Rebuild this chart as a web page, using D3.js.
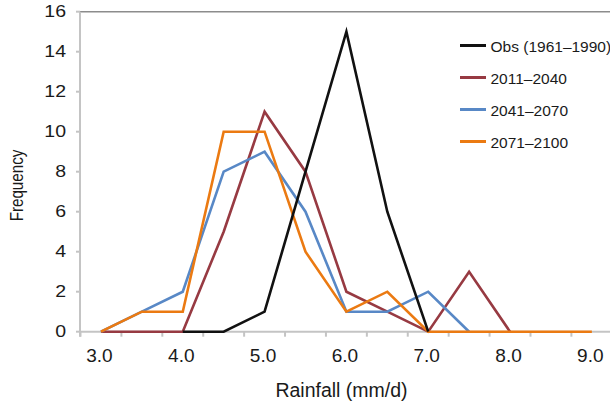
<!DOCTYPE html>
<html>
<head>
<meta charset="utf-8">
<script src="https://cdn.jsdelivr.net/npm/d3@7"></script>
<style>
  body { margin: 0; background: #fff; }
  svg { display: block; }
  text { font-family: "Liberation Sans", Arial, Helvetica, sans-serif; fill: #1a1a1a; }
</style>
</head>
<body>
<svg id="chart" width="610" height="402"></svg>
<script>
// Rainfall classes (mm/d), one every 0.5
const categories = ["3.0","3.5","4.0","4.5","5.0","5.5","6.0","6.5","7.0","7.5","8.0","8.5","9.0"];
const xTickLabels = ["3.0","4.0","5.0","6.0","7.0","8.0","9.0"];
const yTickValues = [0, 2, 4, 6, 8, 10, 12, 14, 16];

const seriesNames = ["Obs (1961–1990)", "2011–2040", "2041–2070", "2071–2100"];
const seriesColors = ["#111111", "#973a42", "#5888c6", "#eb7a12"];

// Frequency per rainfall class (null = class not present in the series)
const obs1961 = [null, null, 0, 0, 1, 8, 15, 6, 0, null, null, null, null];
const fut2011 = [0, 0, 0, 5, 11, 8, 2, 1, 0, 3, 0, null, null];
const fut2041 = [0, 1, 2, 8, 9, 6, 1, 1, 2, 0, null, null, null];
const fut2071 = [0, 1, 1, 10, 10, 4, 1, 2, 0, 0, 0, 0, 0];

const seriesValues = [obs1961, fut2011, fut2041, fut2071];

const svg = d3.select("#chart");

const x = d3.scaleBand().domain(categories).range([80.5, 612.3]).padding(0);
const y = d3.scaleLinear().domain([0, 16]).range([331.7, 11.7]);

const axisColor = "#c4c4c4";

// top frame line at the maximum of the value axis
svg.append("line")
  .attr("x1", 80).attr("x2", 610)
  .attr("y1", y(16)).attr("y2", y(16))
  .attr("stroke", "#8c8c8c").attr("stroke-width", 1.6);

// value axis
svg.append("line")
  .attr("x1", 80).attr("x2", 80)
  .attr("y1", y(16)).attr("y2", y(0) + 5)
  .attr("stroke", axisColor).attr("stroke-width", 2);

svg.selectAll(".ytick").data(yTickValues).enter().append("line")
  .attr("x1", 76).attr("x2", 80)
  .attr("y1", d => y(d)).attr("y2", d => y(d))
  .attr("stroke", axisColor).attr("stroke-width", 2);

svg.selectAll(".ylab").data(yTickValues).enter().append("text")
  .attr("transform", d => `translate(66,${y(d) + 5.7}) scale(1.22,1)`)
  .attr("text-anchor", "end")
  .style("font-size", "16px")
  .text(d => d);

// category axis
svg.append("line")
  .attr("x1", 80).attr("x2", 610)
  .attr("y1", y(0)).attr("y2", y(0))
  .attr("stroke", axisColor).attr("stroke-width", 2);

const boundaries = categories.map(c => x(c)).concat([x(categories[categories.length - 1]) + x.bandwidth()]);
svg.selectAll(".xtick").data(boundaries).enter().append("line")
  .attr("x1", d => d).attr("x2", d => d)
  .attr("y1", y(0)).attr("y2", y(0) + 5)
  .attr("stroke", axisColor).attr("stroke-width", 2);

svg.selectAll(".xlab").data(xTickLabels).enter().append("text")
  .attr("transform", d => `translate(${x(d) + x.bandwidth() / 2 - 1.5},362.3) scale(1.06,1)`)
  .attr("text-anchor", "middle")
  .style("font-size", "18px")
  .text(d => d);

// axis titles
svg.append("text")
  .attr("x", 341.5).attr("y", 397.3)
  .attr("text-anchor", "middle")
  .style("font-size", "19.5px")
  .text("Rainfall (mm/d)");

svg.append("text")
  .attr("transform", "translate(23.3,185.5) rotate(-90) scale(0.82,1)")
  .attr("text-anchor", "middle")
  .style("font-size", "18.5px")
  .text("Frequency");

// series lines
const line = d3.line()
  .defined(d => d.v !== null)
  .x(d => x(d.c) + x.bandwidth() / 2)
  .y(d => y(d.v));

const drawOrder = [1, 2, 3, 0];
drawOrder.forEach(i => {
  const pts = categories.map((c, j) => ({ c, v: seriesValues[i][j] }));
  svg.append("path")
    .datum(pts)
    .attr("d", line)
    .attr("fill", "none")
    .attr("stroke", seriesColors[i])
    .attr("stroke-width", 2.6)
    .attr("stroke-linejoin", "miter");
});

// legend
const legend = svg.append("g");
seriesNames.forEach((name, i) => {
  const ly = 45.5 + i * 32;
  legend.append("line")
    .attr("x1", 460).attr("x2", 486)
    .attr("y1", ly).attr("y2", ly)
    .attr("stroke", seriesColors[i]).attr("stroke-width", 3);
  legend.append("text")
    .attr("x", 490.5).attr("y", ly + 6.3)
    .style("font-size", "15.5px")
    .text(name);
});
</script>
</body>
</html>
